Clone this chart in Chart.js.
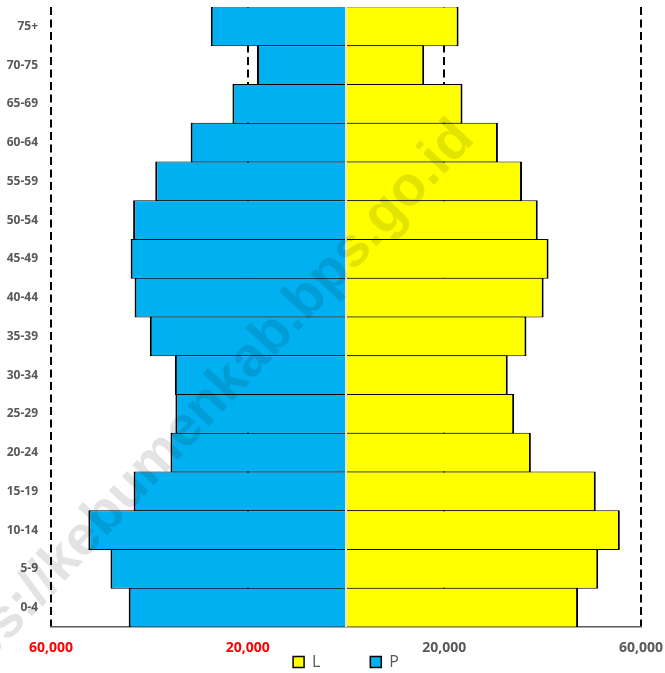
<!DOCTYPE html>
<html>
<head>
<meta charset="utf-8">
<script src="https://cdn.jsdelivr.net/npm/chart.js@4.4.0/dist/chart.umd.min.js"></script>
<style>
  html, body { margin: 0; padding: 0; background: #fff; }
  #wrap { width: 665px; height: 673px; }
</style>
</head>
<body>
<div id="wrap"><canvas id="pyramid"></canvas></div>
<script>
// Age groups, top of the pyramid first
const ageGroups = ["75+", "70-75", "65-69", "60-64", "55-59", "50-54", "45-49", "40-44",
  "35-39", "30-34", "25-29", "20-24", "15-19", "10-14", "5-9", "0-4"];

// L (laki-laki) goes to the right, P (perempuan) to the left
const maleL = [22900, 15900, 23700, 30900, 35800, 39000, 41200, 40200,
  36700, 32900, 34200, 37600, 50800, 55700, 51300, 47200];
const femaleP = [27500, 18100, 23100, 31600, 38800, 43300, 43800, 43000,
  39900, 34800, 34700, 35700, 43200, 52400, 47900, 44200];

// Only these ticks carry a label and a dashed grid line
const xTicks = [-60000, -20000, 20000, 60000];

const labelGrey = "#595959";
const watermarkText = "https://kebumenkab.bps.go.id";

// Light split line at zero, then the faint watermark over everything
const pyramidExtras = {
  id: "pyramidExtras",
  afterDatasetsDraw(chart) {
    const { ctx, chartArea, scales } = chart;
    const x0 = scales.x.getPixelForValue(0);
    ctx.save();
    ctx.strokeStyle = "#e4e4e4";
    ctx.lineWidth = 2;
    ctx.beginPath();
    ctx.moveTo(x0, chartArea.top);
    ctx.lineTo(x0, chartArea.bottom);
    ctx.stroke();
    ctx.restore();
  },
  afterDraw(chart) {
    const ctx = chart.ctx;
    ctx.save();
    ctx.translate(476, 140);
    ctx.rotate(-47 * Math.PI / 180);
    ctx.font = "bold 56px 'Liberation Sans'";
    ctx.fillStyle = "rgba(0, 0, 0, 0.11)";
    ctx.textAlign = "right";
    ctx.textBaseline = "alphabetic";
    ctx.fillText(watermarkText, 0, 0);
    ctx.restore();
  }
};

const getCanvas = document.getElementById("pyramid");

new Chart(getCanvas, {
  type: "bar",
  data: {
    labels: ageGroups,
    datasets: [
      {
        label: "L",
        data: maleL,
        backgroundColor: "#FFFF00",
        borderColor: "#000000",
        borderWidth: { top: 1, bottom: 1, left: 2, right: 2 },
        barPercentage: 1,
        categoryPercentage: 1.02
      },
      {
        label: "P",
        data: femaleP.map(v => -v),
        backgroundColor: "#00B0F0",
        borderColor: "#000000",
        borderWidth: { top: 1, bottom: 1, left: 2, right: 2 },
        barPercentage: 1,
        categoryPercentage: 1.02
      }
    ]
  },
  options: {
    indexAxis: "y",
    responsive: true,
    maintainAspectRatio: false,
    animation: false,
    layout: { padding: { top: 7, right: 24, left: 0, bottom: 0 } },
    plugins: {
      tooltip: { enabled: false },
      legend: {
        position: "bottom",
        fullSize: false,
        maxHeight: 19,
        labels: {
          color: labelGrey,
          font: { family: "Open Sans", size: 16 },
          boxWidth: 11,
          boxHeight: 11,
          padding: 0,
          generateLabels(chart) {
            const items = Chart.defaults.plugins.legend.labels.generateLabels(chart);
            items.forEach(item => {
              item.lineWidth = 1.5;
              item.strokeStyle = "#000000";
            });
            // push P away from L like in the original legend
            items[0].text = "L" + "\u00a0".repeat(12);
            return items;
          }
        }
      }
    },
    scales: {
      x: {
        stacked: true,
        min: -60000,
        max: 60000,
        afterBuildTicks: scale => {
          scale.ticks = xTicks.map(v => ({ value: v }));
        },
        afterFit: scale => {
          scale.paddingLeft = 0;
          scale.paddingRight = 0;
          scale.height = 27;
        },
        grid: { color: "#000000", lineWidth: 2, drawTicks: false },
        border: { display: true, color: labelGrey, width: 1.5, dash: [8, 4.5] },
        ticks: {
          padding: 13,
          font: { family: "Open Sans", size: 14, weight: "bold" },
          color: ctx => (ctx.tick && ctx.tick.value < 0 ? "#FF0000" : labelGrey),
          callback: value => Math.abs(value).toLocaleString("en-US")
        }
      },
      y: {
        stacked: true,
        grid: { display: false, drawTicks: false },
        border: { display: false },
        ticks: {
          padding: 13,
          color: labelGrey,
          font: { family: "Open Sans", size: 12, weight: "bold" }
        },
        afterFit: scale => {
          scale.width = 51;
          scale.paddingTop = 0;
          scale.paddingBottom = 0;
        }
      }
    }
  },
  plugins: [pyramidExtras]
});
</script>
</body>
</html>
